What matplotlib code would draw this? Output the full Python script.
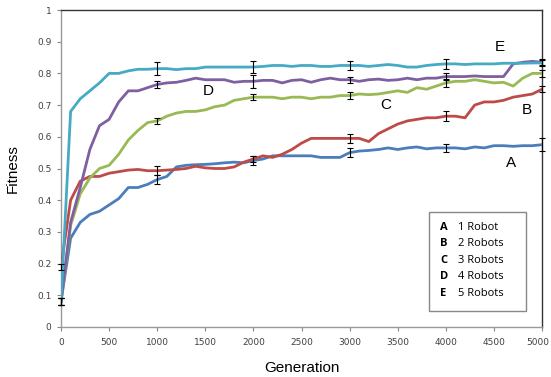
import matplotlib
matplotlib.use("Agg")
import matplotlib.pyplot as plt
import matplotlib.transforms as mtransforms
import numpy as np
from matplotlib.patches import Rectangle

generations = list(range(0, 5001, 100))

robot1 = [0.08, 0.28, 0.33, 0.355, 0.365, 0.385, 0.405, 0.44, 0.44, 0.45,
          0.465, 0.475, 0.505, 0.51, 0.512, 0.513, 0.515, 0.518, 0.52, 0.518,
          0.525, 0.53, 0.54, 0.54, 0.54, 0.54, 0.54, 0.535, 0.535, 0.535,
          0.55, 0.555, 0.557, 0.56, 0.565, 0.56, 0.565, 0.568, 0.562, 0.565,
          0.565, 0.565, 0.562, 0.568, 0.565, 0.572, 0.572, 0.57, 0.572, 0.572,
          0.575]
robot2 = [0.19, 0.40, 0.46, 0.475, 0.475, 0.485, 0.49, 0.495, 0.497, 0.493,
          0.493, 0.495, 0.497, 0.50, 0.507, 0.502, 0.50, 0.50, 0.505, 0.52,
          0.53, 0.54, 0.535, 0.545, 0.56, 0.58, 0.595, 0.595, 0.595, 0.595,
          0.595, 0.595, 0.585, 0.61, 0.625, 0.64, 0.65, 0.655, 0.66, 0.66,
          0.665, 0.665, 0.66, 0.70, 0.71, 0.71, 0.715, 0.725, 0.73, 0.735,
          0.75]
robot3 = [0.08, 0.32, 0.42, 0.47, 0.50, 0.51, 0.545, 0.59, 0.62, 0.645,
          0.65, 0.665, 0.675, 0.68, 0.68, 0.685, 0.695, 0.70, 0.715, 0.72,
          0.725, 0.725, 0.725, 0.72, 0.725, 0.725, 0.72, 0.725, 0.725, 0.73,
          0.73, 0.735, 0.733, 0.735, 0.74, 0.745, 0.74, 0.755, 0.75, 0.76,
          0.77, 0.775, 0.775, 0.78, 0.775, 0.77, 0.772, 0.76, 0.785, 0.80,
          0.80]
robot4 = [0.08, 0.33, 0.44, 0.56, 0.635, 0.655, 0.71, 0.745, 0.745, 0.755,
          0.765, 0.77, 0.772, 0.778, 0.785, 0.78, 0.78, 0.78, 0.772, 0.775,
          0.775, 0.778, 0.778, 0.77, 0.778, 0.78, 0.772, 0.78, 0.785, 0.78,
          0.78, 0.775, 0.78, 0.782, 0.778, 0.78, 0.785, 0.78, 0.785, 0.785,
          0.79, 0.79, 0.79, 0.792, 0.79, 0.79, 0.79, 0.83, 0.835, 0.838,
          0.835]
robot5 = [0.08, 0.68, 0.72, 0.745, 0.77, 0.80, 0.80, 0.808, 0.813, 0.813,
          0.815, 0.815, 0.812, 0.815, 0.815, 0.82, 0.82, 0.82, 0.82, 0.82,
          0.82, 0.822, 0.825, 0.825, 0.822, 0.825, 0.825, 0.822, 0.822, 0.825,
          0.825, 0.825, 0.822, 0.825, 0.828, 0.825, 0.82, 0.82, 0.825, 0.828,
          0.83, 0.83, 0.828, 0.83, 0.83, 0.83, 0.832, 0.832, 0.832, 0.833,
          0.833]

err_gens = [0, 1000, 2000, 3000, 4000, 5000]
err1 = [0.01, 0.015, 0.015, 0.015, 0.012, 0.02]
err2 = [0.01, 0.015, 0.01, 0.015, 0.015, 0.01]
err3 = [0.01, 0.01, 0.01, 0.012, 0.012, 0.01]
err4 = [0.01, 0.012, 0.02, 0.01, 0.012, 0.01]
err5 = [0.01, 0.02, 0.02, 0.015, 0.015, 0.01]

series = [robot1, robot2, robot3, robot4, robot5]
errs = [err1, err2, err3, err4, err5]
colors = ["#4A7EBB", "#BE4B48", "#98B954", "#7D60A0", "#46AAC5"]
letters = ["A", "B", "C", "D", "E"]
legend_labels = ["1 Robot", "2 Robots", "3 Robots", "4 Robots", "5 Robots"]
label_pos = [(4680, 0.517), (4840, 0.685), (3380, 0.70), (1530, 0.745), (4560, 0.883)]

fig = plt.figure(figsize=(5.51, 3.77), dpi=100)
ax = fig.add_axes([61/551, 1-327/377, (542-61)/551, (327-10)/377])

gens = np.array(generations)
for s, c in zip(series, colors):
    ax.plot(gens, s, color=c, lw=2.0, zorder=3)
for s, e in zip(series, errs):
    idx = [generations.index(g) for g in err_gens]
    ax.errorbar(err_gens, [s[i] for i in idx], yerr=e, fmt="none",
                ecolor="black", elinewidth=0.8, capsize=2.5, capthick=0.8,
                zorder=4, clip_on=False)

for (x, y), l in zip(label_pos, letters):
    ax.text(x, y, l, fontsize=11, ha="center", va="center", family="Liberation Sans", zorder=5)

ax.set_xlim(0, 5000)
ax.set_ylim(0, 1)
ax.set_xticks(range(0, 5001, 500))
ax.set_yticks(np.round(np.arange(0, 1.01, 0.1), 1))
ax.set_yticklabels(["0", "0.1", "0.2", "0.3", "0.4", "0.5", "0.6", "0.7", "0.8", "0.9", "1"])
ax.tick_params(axis="both", labelsize=6.5, colors="#888888", labelcolor="#404040",
               direction="out", length=3, width=0.8)
ax.tick_params(axis="x", pad=5)
ax.tick_params(axis="y", pad=4)
for sp in ["left", "bottom"]:
    ax.spines[sp].set_color("#999999")
    ax.spines[sp].set_linewidth(1.0)
for sp in ["top", "right"]:
    ax.spines[sp].set_color("#333333")
    ax.spines[sp].set_linewidth(1.0)

# nudge the last x tick label so it stays inside the figure
last = ax.get_xticklabels()[-1]
last.set_transform(last.get_transform() +
                   mtransforms.ScaledTranslation(-4/100, 0, fig.dpi_scale_trans))

ax.set_xlabel("Generation", fontsize=11, family="Liberation Sans", labelpad=10)
ax.set_ylabel("Fitness", fontsize=11, family="Liberation Sans", labelpad=12)

# legend box
lx0, ly0 = (429-61)/481, (327-311)/317
lw, lh = (526-429)/481, (311-212)/317
ax.add_patch(Rectangle((lx0, ly0), lw, lh, transform=ax.transAxes, facecolor="white",
                       edgecolor="#888888", lw=1.0, zorder=6))
for i, (l, t) in enumerate(zip(letters, legend_labels)):
    yy = (327-227)/317 - i*(16.6/317)
    ax.text((440-61)/481, yy, l, transform=ax.transAxes, fontsize=8, fontweight="bold",
            va="center", ha="left", family="Open Sans", zorder=7)
    ax.text((458-61)/481, yy, t, transform=ax.transAxes, fontsize=8,
            va="center", ha="left", family="Open Sans", zorder=7)

fig.savefig("out.png", dpi=100)
